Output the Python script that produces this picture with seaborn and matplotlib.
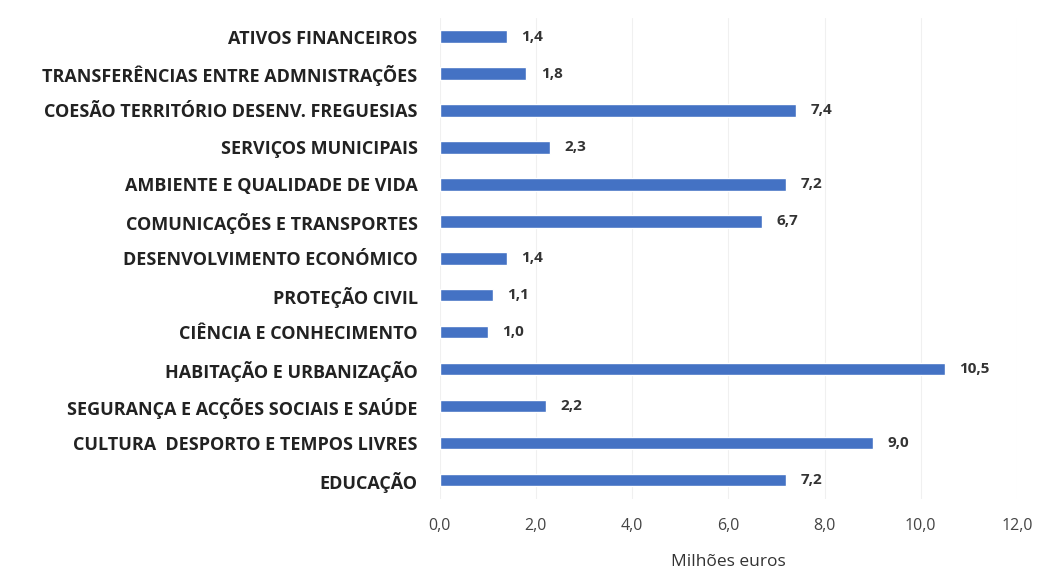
import matplotlib
matplotlib.use('Agg')
import matplotlib.pyplot as plt
import seaborn as sns
import pandas as pd

categorias = [
    'ATIVOS FINANCEIROS',
    'TRANSFERÊNCIAS ENTRE ADMNISTRAÇÕES',
    'COESÃO TERRITÓRIO DESENV. FREGUESIAS',
    'SERVIÇOS MUNICIPAIS',
    'AMBIENTE E QUALIDADE DE VIDA',
    'COMUNICAÇÕES E TRANSPORTES',
    'DESENVOLVIMENTO ECONÓMICO',
    'PROTEÇÃO CIVIL',
    'CIÊNCIA E CONHECIMENTO',
    'HABITAÇÃO E URBANIZAÇÃO',
    'SEGURANÇA E ACÇÕES SOCIAIS E SAÚDE',
    'CULTURA  DESPORTO E TEMPOS LIVRES',
    'EDUCAÇÃO',
]
valores = [1.4, 1.8, 7.4, 2.3, 7.2, 6.7, 1.4, 1.1, 1.0, 10.5, 2.2, 9.0, 7.2]
xticks = [0, 2, 4, 6, 8, 10, 12]

df = pd.DataFrame({'categoria': categorias, 'valor': valores})

sns.set_style('white')
plt.rcParams['font.family'] = ['Open Sans', 'DejaVu Sans']

fig, ax = plt.subplots(figsize=(10.42, 5.82), dpi=100)
fig.subplots_adjust(left=0.422, right=0.976, top=0.969, bottom=0.143)

sns.barplot(data=df, x='valor', y='categoria', orient='h', color='#4472c4',
            width=0.33, saturation=1, ax=ax)

for i, v in enumerate(valores):
    ax.text(v + 0.3, i, f'{v:.1f}'.replace('.', ','), va='center', ha='left',
            fontsize=11, fontweight='bold', color='#333333')

ax.set_xlim(0, 12)
ax.set_xticks(xticks)
ax.set_xticklabels([f'{t:.1f}'.replace('.', ',') for t in xticks],
                   fontsize=11.5, color='#444444')
ax.xaxis.grid(True, color='#f0f0f0', linewidth=0.8)
ax.set_axisbelow(True)
for s in ax.spines.values():
    s.set_visible(False)
ax.tick_params(axis='y', length=0, pad=16)
ax.tick_params(axis='x', length=0, pad=14)
for lbl in ax.get_yticklabels():
    lbl.set_fontweight('bold')
    lbl.set_fontsize(13)
    lbl.set_color('#222222')
ax.set_ylabel('')
ax.set_xlabel('Milhões euros', fontsize=12.5, color='#333333', labelpad=14)

plt.savefig('out.png', dpi=100)
plt.close()
